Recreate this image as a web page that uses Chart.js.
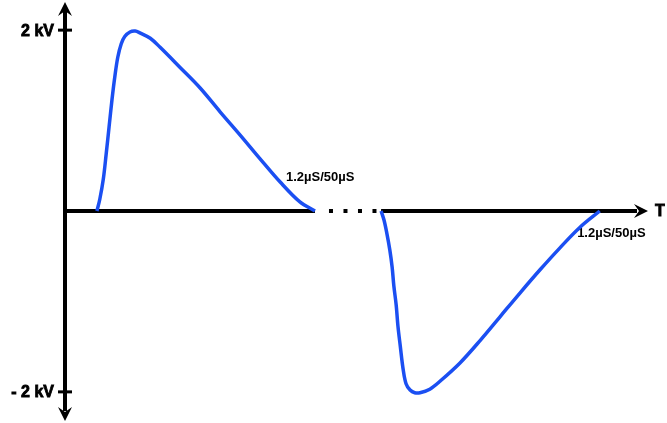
<!DOCTYPE html>
<html>
<head>
<meta charset="utf-8">
<script src="https://cdn.jsdelivr.net/npm/chart.js@4"></script>
<style>
  html, body { margin: 0; padding: 0; background: #fff; }
  #wrap { width: 667px; height: 423px; }
</style>
</head>
<body>
<div id="wrap"><canvas id="surge"></canvas></div>
<script>
// positive surge (time units, kV)
const posTime = [5.5, 6.0, 6.6, 7.1, 7.6, 8.1, 8.6, 9.1, 9.7, 10.3, 11.2, 12.1, 12.9, 14.7, 16.4, 19.8, 23.3, 26.7, 30.2, 33.6, 37.1, 40.5, 43.1];
const posKv = [0, 0.13, 0.35, 0.63, 0.93, 1.23, 1.49, 1.70, 1.85, 1.93, 1.98, 1.99, 1.97, 1.91, 1.81, 1.59, 1.36, 1.10, 0.84, 0.58, 0.32, 0.10, 0];

// negative surge
const negTime = [54.5, 55.0, 55.5, 56.0, 56.4, 56.7, 57.1, 57.4, 57.8, 58.3, 58.8, 59.5, 60.3, 61.2, 62.9, 64.7, 68.1, 71.6, 75.0, 78.4, 81.9, 85.3, 88.8, 92.2];
const negKv = [0, -0.10, -0.25, -0.43, -0.62, -0.83, -1.04, -1.27, -1.49, -1.75, -1.91, -1.98, -2.01, -2.01, -1.97, -1.88, -1.68, -1.43, -1.17, -0.91, -0.65, -0.41, -0.18, 0];

const tickValues = [2, -2];
const tickLabels = ["2 kV", "- 2 kV"];
const waveLabel = "1.2µS/50µS";

function toPoints(xs, ys) {
  return xs.map((x, i) => ({ x: x, y: ys[i] }));
}

// arrow head with a notch, pointing along (dx, dy)
function arrow(ctx, x, y, dx, dy) {
  const len = 14, half = 7, notch = 5;
  const px = -dy, py = dx;
  ctx.beginPath();
  ctx.moveTo(x, y);
  ctx.lineTo(x - dx * len + px * half, y - dy * len + py * half);
  ctx.lineTo(x - dx * (len - notch), y - dy * (len - notch));
  ctx.lineTo(x - dx * len - px * half, y - dy * len - py * half);
  ctx.closePath();
  ctx.fill();
}

const axesPlugin = {
  id: "axesPlugin",
  beforeDatasetsDraw(chart) {
    const ctx = chart.ctx;
    const xs = chart.scales.x, ys = chart.scales.y;
    const area = chart.chartArea;
    const x0 = xs.getPixelForValue(0);
    const y0 = ys.getPixelForValue(0);
    const gapA = xs.getPixelForValue(posTime[posTime.length - 1]);
    const gapB = xs.getPixelForValue(negTime[0]);
    ctx.save();
    ctx.strokeStyle = "#000";
    ctx.fillStyle = "#000";
    ctx.lineWidth = 4;
    ctx.lineCap = "butt";

    // vertical axis
    ctx.beginPath();
    ctx.moveTo(x0, area.top + 8);
    ctx.lineTo(x0, area.bottom - 8);
    ctx.stroke();
    arrow(ctx, x0, area.top - 1, 0, -1);
    arrow(ctx, x0, area.bottom + 2, 0, 1);

    // time axis, broken between the two surges
    ctx.beginPath();
    ctx.moveTo(x0, y0);
    ctx.lineTo(gapA, y0);
    ctx.moveTo(gapB, y0);
    ctx.lineTo(area.right - 8, y0);
    ctx.stroke();
    arrow(ctx, area.right + 3, y0, 1, 0);
    for (let i = 0; i < 4; i++) {
      const dx = gapA + 16 + i * 14.5;
      ctx.fillRect(dx - 2, y0 - 2, 4, 4);
    }

    // kV ticks
    ctx.lineWidth = 3;
    ctx.font = "bold 16px 'Liberation Sans', Arial, sans-serif";
    ctx.textAlign = "right";
    ctx.textBaseline = "middle";
    tickValues.forEach((v, i) => {
      const ty = ys.getPixelForValue(v);
      ctx.beginPath();
      ctx.moveTo(x0 - 7, ty);
      ctx.lineTo(x0 + 7, ty);
      ctx.stroke();
      ctx.lineWidth = 0.8;
      ctx.strokeText(tickLabels[i], x0 - 11, ty + 1);
      ctx.lineWidth = 3;
      ctx.fillText(tickLabels[i], x0 - 11, ty + 1);
    });

    ctx.textAlign = "left";
    ctx.lineWidth = 0.8;
    ctx.strokeText("T", area.right + 10, y0 + 1);
    ctx.fillText("T", area.right + 10, y0 + 1);

    // wave shape labels
    ctx.font = "bold 13px 'Liberation Sans', Arial, sans-serif";
    ctx.fillText(waveLabel, xs.getPixelForValue(38.1), ys.getPixelForValue(0.37));
    ctx.fillText(waveLabel, xs.getPixelForValue(88.3), ys.getPixelForValue(-0.25));
    ctx.restore();
  }
};

new Chart("surge", {
  type: "line",
  data: {
    datasets: [{
      data: toPoints(posTime, posKv),
      borderColor: "#1b4ff2",
      borderWidth: 3.5,
      pointRadius: 0,
      tension: 0.35
    }, {
      data: toPoints(negTime, negKv),
      borderColor: "#1b4ff2",
      borderWidth: 3.5,
      pointRadius: 0,
      tension: 0.35
    }]
  },
  options: {
    responsive: true,
    maintainAspectRatio: false,
    animation: false,
    layout: { padding: { left: 65, right: 22, top: 3, bottom: 4 } },
    plugins: { legend: { display: false }, tooltip: { enabled: false } },
    scales: {
      x: { type: "linear", min: 0, max: 100, display: false },
      y: { min: -2.3, max: 2.3, display: false }
    }
  },
  plugins: [axesPlugin]
});
</script>
</body>
</html>
